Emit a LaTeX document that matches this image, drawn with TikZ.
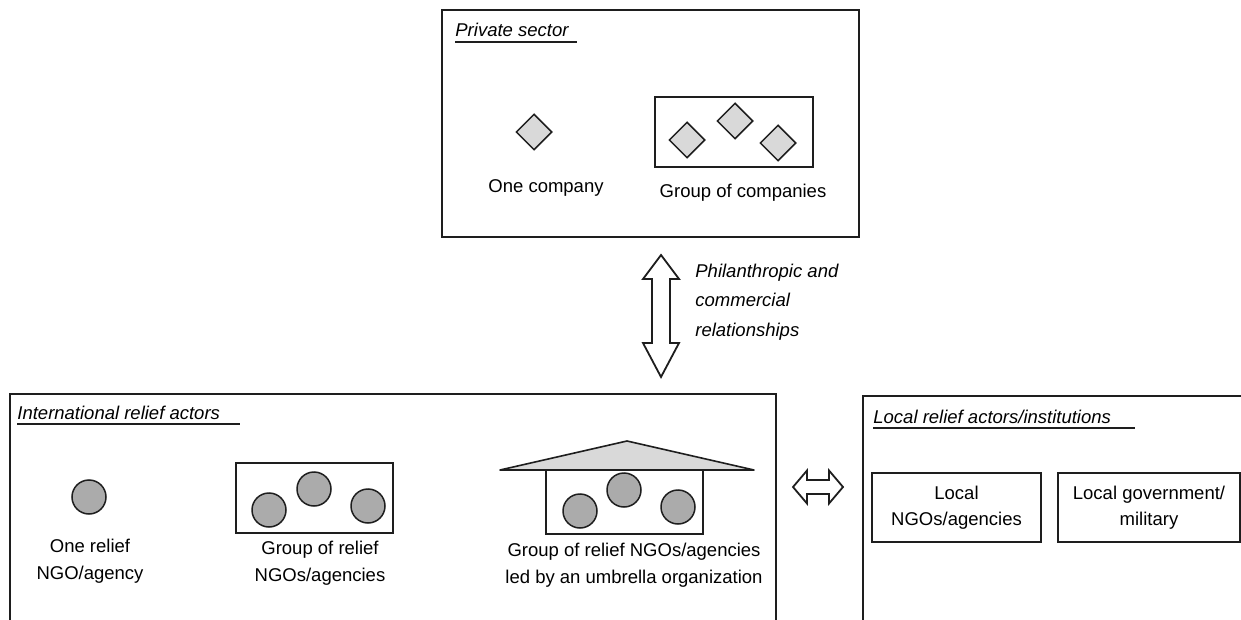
\documentclass[tikz,border=0pt]{standalone}
\usepackage{fontspec}
\setmainfont{Liberation Sans}
\usetikzlibrary{positioning,shapes.geometric}

\definecolor{ink}{HTML}{1E1E1E}
\definecolor{lightfill}{HTML}{D9D9D9}
\definecolor{darkfill}{HTML}{ABABAB}

\begin{document}
\begin{tikzpicture}[x=0.5pt,y=-0.5pt,
    box/.style={draw=ink,line width=1pt,inner sep=0pt},
    firm/.style={diamond,draw=ink,line width=0.75pt,fill=lightfill,minimum size=18pt,inner sep=0pt},
    ngo/.style={circle,draw=ink,line width=0.75pt,fill=darkfill,minimum size=17pt,inner sep=0pt},
    lbl/.style={align=center,inner sep=0pt,font=\fontsize{9.25}{13.7}\selectfont},
    ttl/.style={anchor=base west,inner sep=0pt,font=\fontsize{9.25}{11}\selectfont\itshape},
    dbl/.style={draw=ink,line width=0.9pt,fill=white,line join=miter}]

    \useasboundingbox (0,0) rectangle (1241,620);

    % private sector
    \node[box,minimum width=208.5pt,minimum height=113.5pt] (priv) at (650.5,123.5) {};
    \node[ttl] (privt) at (455,37) {Private sector};
    \draw[ink,line width=0.9pt] ([yshift=-2.5pt]privt.base west) -- ++(122,0);

    \node[firm] (co) at (534,132) {};
    \node[lbl] (colbl) at (546,188) {One company};

    \node[box,minimum width=79pt,minimum height=35pt] (cogrp) at (734,132) {};
    \node[firm] (co1) at (687,140) {};
    \node[firm] (co2) at (735,121) {};
    \node[firm] (co3) at (778,143) {};
    \node[lbl] (cogrplbl) at (743,193) {Group of companies};

    % vertical relation arrow
    \draw[dbl] (661,255) -- (679,279) -- (670,279) -- (670,343) -- (679,343)
        -- (661,377) -- (643,343) -- (652,343) -- (652,279) -- (643,279) -- cycle;
    \node[lbl,anchor=west,align=left,font=\fontsize{9.25}{14.75}\selectfont\itshape] (rel) at (695,302)
        {Philanthropic and\\commercial\\relationships};

    % international relief actors
    \draw[ink,line width=1pt] (10,621) -- (10,394) -- (776,394) -- (776,621);
    \node[ttl] (intt) at (17,419) {International relief actors};
    \draw[ink,line width=0.9pt] ([yshift=-2.5pt]intt.base west) -- ++(223,0);

    \node[ngo] (one) at (89,497) {};
    \node[lbl] (onelbl) at (90,561.5) {One relief\\NGO/agency};

    \node[box,minimum width=78.5pt,minimum height=35pt] (grp) at (314.5,498) {};
    \node[ngo] (g1) at (269,510) {};
    \node[ngo] (g2) at (314,489) {};
    \node[ngo] (g3) at (368,506) {};
    \node[lbl] (grplbl) at (320,563) {Group of relief\\NGOs/agencies};

    % umbrella roof
    \filldraw[fill=lightfill,draw=ink,line width=0.8pt,line join=round] (500,470) -- (627,441) -- (754,470) -- cycle;
    \node[box,line width=0.75pt,minimum width=78.5pt,minimum height=32pt] (umb) at (624.5,502) {};
    \node[ngo] (u1) at (580,511) {};
    \node[ngo] (u2) at (624,490) {};
    \node[ngo] (u3) at (678,507) {};
    \node[lbl] (umblbl) at (634,565.5) {Group of relief NGOs/agencies\\led by an umbrella organization};

    % horizontal relation arrow
    \draw[dbl] (793,487) -- (807,470.5) -- (807,480) -- (829,480) -- (829,470.5)
        -- (843,487) -- (829,503.5) -- (829,494) -- (807,494) -- (807,503.5) -- cycle;

    % local relief actors
    \draw[ink,line width=1pt] (863,621) -- (863,396) -- (1242,396);
    \node[ttl] (loct) at (873,423) {Local relief actors/institutions};
    \draw[ink,line width=0.9pt] ([yshift=-2.5pt]loct.base west) -- ++(262,0);

    \node[box,lbl,minimum width=84.5pt,minimum height=34.5pt,font=\fontsize{9.25}{12.8}\selectfont] (lngo) at (956.5,507.5) {Local\\NGOs/agencies};
    \node[box,lbl,minimum width=91pt,minimum height=34.5pt,font=\fontsize{9.25}{12.8}\selectfont,right=7.5pt of lngo] (lgov) {Local government/\\military};

\end{tikzpicture}
\end{document}
